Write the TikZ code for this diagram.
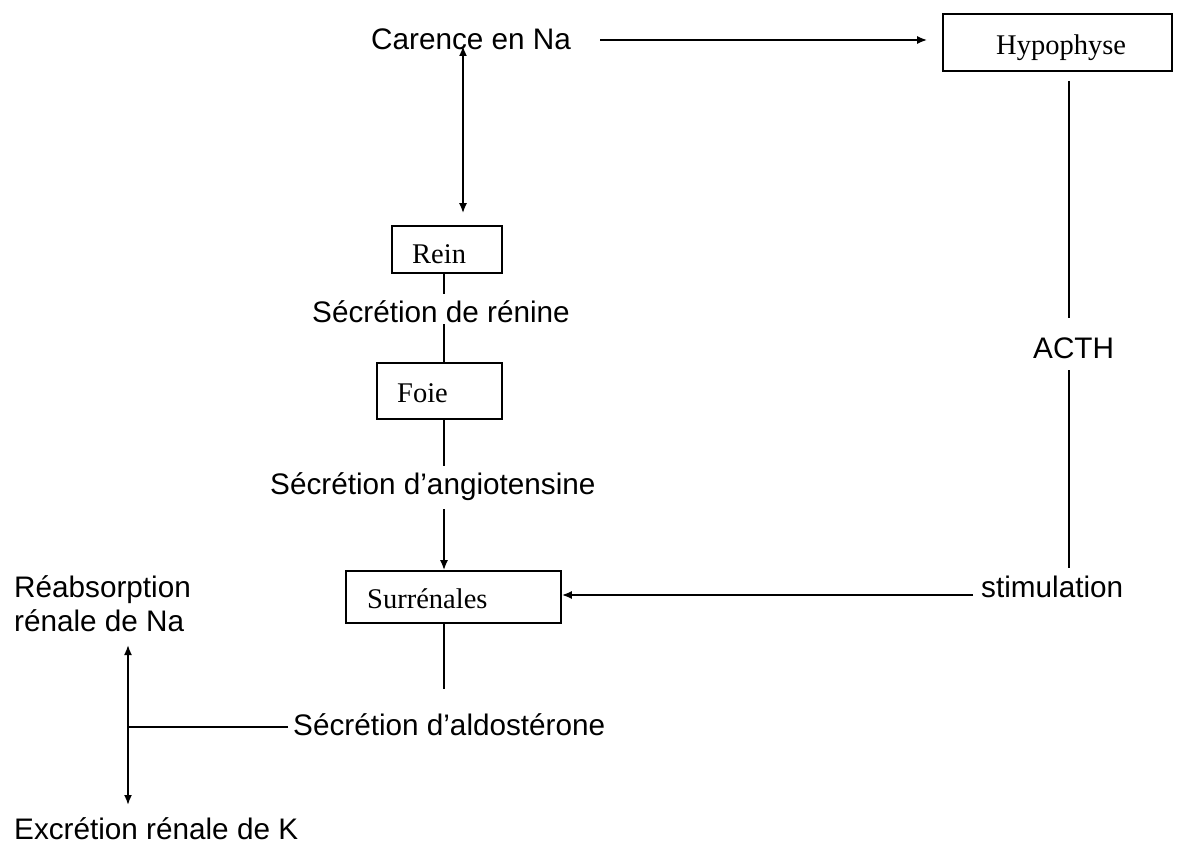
\documentclass[tikz,border=0pt]{standalone}
\usepackage{fontspec}
\setmainfont{Liberation Sans}
\newfontfamily\organfont{Liberation Serif}
\usetikzlibrary{arrows.meta,calc}

\begin{document}
\begin{tikzpicture}[x=1pt,y=-1pt,
  lbl/.style={anchor=base west, inner sep=0pt, font=\fontsize{29.7}{34}\selectfont},
  organ/.style={draw, line width=1.6pt, inner sep=0pt, rectangle},
  organname/.style={anchor=base west, inner sep=0pt, font=\organfont\fontsize{28.5}{32}\selectfont},
  link/.style={line width=1.8pt},
  tip/.tip={Latex[length=10pt,width=8pt]},
  arr/.style={link, -tip},
  both/.style={link, tip-tip}]
\useasboundingbox (0,0) rectangle (1184,848);

% organ boxes
\node[organ, minimum width=229pt, minimum height=57pt] (hypo) at (1057.5,42.5) {};
\node[organname] (hyponame) at (996,55) {Hypophyse};
\node[organ, minimum width=110pt, minimum height=47pt] (rein) at (447,249.5) {};
\node[organname] (reinname) at (412,263) {Rein};
\node[organ, minimum width=125pt, minimum height=56pt] (foie) at (439.5,391) {};
\node[organname] (foiename) at (397,402) {Foie};
\node[organ, minimum width=215pt, minimum height=52pt] (surr) at (453.5,597) {};
\node[organname] (surrname) at (367,608) {Surrénales};

% labels
\node[lbl] (carence) at (371,50) {Carence en Na};
\node[lbl] (renine) at (312,322) {Sécrétion de rénine};
\node[lbl] (angio) at (270,494) {Sécrétion d'angiotensine};
\node[lbl] (acth) at (1033,358) {ACTH};
\node[lbl] (stim) at (981,597) {stimulation};
\node[lbl] (aldo) at (293,735) {Sécrétion d'aldostérone};
\node[lbl] (reab) at (14,597) {Réabsorption};
\node[lbl] (reabb) at (14,631) {rénale de Na};
\node[lbl] (excr) at (14,839) {Excrétion rénale de K};

% guide points for the connectors
\coordinate (spine) at (444,0);
\coordinate (acthx) at (1069,0);
\coordinate (naout) at (600,40);
\coordinate (natip) at (463,46);
\coordinate (stimout) at (973,595);
\coordinate (fork) at (128,727);
\coordinate (reabtip) at (128,645);
\coordinate (excrtip) at (128,805);

% Carence en Na -> Hypophyse
\draw[arr, shorten >=15pt] (naout) -- (naout -| hypo.west);
% Carence en Na <-> Rein
\draw[both, shorten >=12pt] (natip) -- (natip |- rein.north);

% Rein -> renin -> Foie -> angiotensin -> Surrenales
\draw[link] (rein.south -| spine) -- ($(rein.south -| spine)+(0,20)$);
\draw[link] ($(renine.base -| spine)+(0,2)$) -- (foie.north -| spine);
\draw[link] (foie.south -| spine) -- ($(foie.south -| spine)+(0,46)$);
\draw[arr] ($(angio.base -| spine)+(0,15)$) -- (surr.north -| spine);
\draw[link] (surr.south -| spine) -- ($(surr.south -| spine)+(0,65)$);

% Hypophyse -> ACTH -> stimulation -> Surrenales
\draw[link] ($(hypo.south -| acthx)+(0,9)$) -- ($(acth.base -| acthx)+(0,-40)$);
\draw[link] ($(acth.base -| acthx)+(0,12)$) -- ($(stim.base -| acthx)+(0,-29)$);
\draw[arr] (stimout) -- (stimout -| surr.east);

% aldosterone effects
\draw[link] ($(aldo.base west)+(-5,-8)$) -- (fork);
\draw[both] (reabtip) -- (excrtip);
\end{tikzpicture}
\end{document}
